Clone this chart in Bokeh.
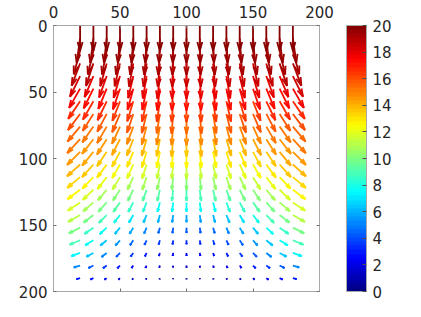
import math
from bokeh.plotting import figure
from bokeh.models import (Range1d, LinearAxis, ColorBar, LinearColorMapper,
                          FixedTicker, ColumnDataSource, CustomJSTickFormatter)
from bokeh.embed import file_html
from bokeh.resources import INLINE

# arrow tail positions
x_pos = [20, 30, 40, 50, 60, 70, 80, 90, 100, 110, 120, 130, 140, 150, 160, 170, 180]
y_pos = [0, 9.5, 19, 28.5, 38, 47.5, 57, 66.5, 76, 85.5, 95, 104.5, 114, 123.5,
         133, 142.5, 152, 161.5, 171, 180.5, 190]

# horizontal component (one row per y_pos, one value per x_pos)
U = [
    [0, 0, 0, 0, 0, 0, 0, 0, 0, 0, 0, 0, 0, 0, 0, 0, 0],
    [-2.7, -2.4, -2.1, -1.7, -1.4, -1.0, -0.7, -0.3, 0, 0.3, 0.7, 1.0, 1.4, 1.7, 2.1, 2.4, 2.7],
    [-5.0, -4.4, -3.7, -3.1, -2.5, -1.9, -1.3, -0.6, 0, 0.6, 1.3, 1.9, 2.5, 3.1, 3.7, 4.4, 5.0],
    [-6.7, -5.9, -5.1, -4.2, -3.4, -2.5, -1.7, -0.8, 0, 0.8, 1.7, 2.5, 3.4, 4.2, 5.1, 5.9, 6.7],
    [-8.0, -7.0, -6.0, -5.0, -4.0, -3.0, -2.0, -1.0, 0, 1.0, 2.0, 3.0, 4.0, 5.0, 6.0, 7.0, 8.0],
    [-8.7, -7.7, -6.6, -5.6, -4.5, -3.4, -2.2, -1.1, 0, 1.1, 2.2, 3.4, 4.5, 5.6, 6.6, 7.7, 8.7],
    [-9.4, -8.3, -7.2, -6.0, -4.8, -3.6, -2.4, -1.2, 0, 1.2, 2.4, 3.6, 4.8, 6.0, 7.2, 8.3, 9.4],
    [-9.6, -8.5, -7.4, -6.2, -5.0, -3.8, -2.5, -1.3, 0, 1.3, 2.5, 3.8, 5.0, 6.2, 7.4, 8.5, 9.6],
    [-10.0, -8.8, -7.6, -6.3, -5.1, -3.8, -2.6, -1.3, 0, 1.3, 2.6, 3.8, 5.1, 6.3, 7.6, 8.8, 10.0],
    [-10.2, -9.0, -7.7, -6.4, -5.1, -3.9, -2.6, -1.3, 0, 1.3, 2.6, 3.9, 5.1, 6.4, 7.7, 9.0, 10.2],
    [-10.3, -8.9, -7.6, -6.3, -5.0, -3.7, -2.5, -1.2, 0, 1.2, 2.5, 3.7, 5.0, 6.3, 7.6, 8.9, 10.3],
    [-10.4, -9.0, -7.6, -6.2, -4.9, -3.6, -2.4, -1.2, 0, 1.2, 2.4, 3.6, 4.9, 6.2, 7.6, 9.0, 10.4],
    [-10.2, -8.7, -7.3, -5.9, -4.6, -3.4, -2.2, -1.1, 0, 1.1, 2.2, 3.4, 4.6, 5.9, 7.3, 8.7, 10.2],
    [-10.0, -8.4, -7.0, -5.6, -4.4, -3.2, -2.1, -1.0, 0, 1.0, 2.1, 3.2, 4.4, 5.6, 7.0, 8.4, 10.0],
    [-9.8, -8.1, -6.6, -5.3, -4.0, -2.9, -1.9, -0.9, 0, 0.9, 1.9, 2.9, 4.0, 5.3, 6.6, 8.1, 9.8],
    [-9.5, -7.8, -6.2, -4.8, -3.5, -2.5, -1.6, -0.8, 0, 0.8, 1.6, 2.5, 3.5, 4.8, 6.2, 7.8, 9.5],
    [-8.9, -7.1, -5.5, -4.1, -3.0, -2.0, -1.3, -0.6, 0, 0.6, 1.3, 2.0, 3.0, 4.1, 5.5, 7.1, 8.9],
    [-8.3, -6.5, -5.0, -3.6, -2.6, -1.7, -1.0, -0.5, 0, 0.5, 1.0, 1.7, 2.6, 3.6, 5.0, 6.5, 8.3],
    [-7.0, -5.5, -4.1, -3.0, -2.1, -1.3, -0.8, -0.4, 0, 0.4, 0.8, 1.3, 2.1, 3.0, 4.1, 5.5, 7.0],
    [-5.0, -3.9, -2.9, -2.1, -1.4, -0.9, -0.5, -0.2, 0, 0.2, 0.5, 0.9, 1.4, 2.1, 2.9, 3.9, 5.0],
    [-2.9, -2.3, -1.7, -1.2, -0.8, -0.5, -0.3, -0.1, 0, 0.1, 0.3, 0.5, 0.8, 1.2, 1.7, 2.3, 2.9],
]

# vertical component (positive = downwards, as the y axis runs 0 at top to 200 at bottom)
V = [
    [20, 20, 20, 20, 20, 20, 20, 20, 20, 20, 20, 20, 20, 20, 20, 20, 20],
    [19.5, 19.5, 19.5, 19.6, 19.6, 19.6, 19.6, 19.6, 19.6, 19.6, 19.6, 19.6, 19.6, 19.6, 19.5, 19.5, 19.5],
    [18.6, 18.8, 18.8, 18.9, 19.0, 19.0, 19.1, 19.1, 19.1, 19.1, 19.1, 19.0, 19.0, 18.9, 18.8, 18.8, 18.6],
    [17.6, 17.8, 18.0, 18.1, 18.3, 18.4, 18.4, 18.5, 18.5, 18.5, 18.4, 18.4, 18.3, 18.1, 18.0, 17.8, 17.6],
    [16.4, 16.7, 17.0, 17.3, 17.5, 17.7, 17.8, 17.9, 17.9, 17.9, 17.8, 17.7, 17.5, 17.3, 17.0, 16.7, 16.4],
    [15.2, 15.6, 16.0, 16.4, 16.7, 16.9, 17.1, 17.2, 17.2, 17.2, 17.1, 16.9, 16.7, 16.4, 16.0, 15.6, 15.2],
    [13.9, 14.5, 15.0, 15.4, 15.8, 16.1, 16.2, 16.4, 16.4, 16.4, 16.2, 16.1, 15.8, 15.4, 15.0, 14.5, 13.9],
    [12.8, 13.4, 14.0, 14.5, 14.9, 15.2, 15.4, 15.6, 15.6, 15.6, 15.4, 15.2, 14.9, 14.5, 14.0, 13.4, 12.8],
    [11.9, 12.5, 13.1, 13.6, 14.0, 14.3, 14.5, 14.7, 14.7, 14.7, 14.5, 14.3, 14.0, 13.6, 13.1, 12.5, 11.9],
    [11.0, 11.6, 12.2, 12.7, 13.0, 13.3, 13.5, 13.7, 13.7, 13.7, 13.5, 13.3, 13.0, 12.7, 12.2, 11.6, 11.0],
    [10.3, 10.9, 11.4, 11.8, 12.1, 12.3, 12.5, 12.6, 12.6, 12.6, 12.5, 12.3, 12.1, 11.8, 11.4, 10.9, 10.3],
    [9.4, 10.0, 10.4, 10.8, 11.0, 11.2, 11.3, 11.4, 11.4, 11.4, 11.3, 11.2, 11.0, 10.8, 10.4, 10.0, 9.4],
    [8.5, 9.1, 9.5, 9.8, 9.9, 10.1, 10.1, 10.2, 10.2, 10.2, 10.1, 10.1, 9.9, 9.8, 9.5, 9.1, 8.5],
    [7.5, 8.0, 8.4, 8.6, 8.8, 8.8, 8.9, 8.9, 8.9, 8.9, 8.9, 8.8, 8.8, 8.6, 8.4, 8.0, 7.5],
    [6.6, 7.1, 7.4, 7.5, 7.6, 7.6, 7.5, 7.5, 7.5, 7.5, 7.5, 7.6, 7.6, 7.5, 7.4, 7.1, 6.6],
    [5.5, 6.0, 6.2, 6.2, 6.1, 6.0, 5.9, 5.8, 5.8, 5.8, 5.9, 6.0, 6.1, 6.2, 6.2, 6.0, 5.5],
    [4.5, 5.0, 5.1, 5.0, 4.9, 4.7, 4.5, 4.3, 4.3, 4.3, 4.5, 4.7, 4.9, 5.0, 5.1, 5.0, 4.5],
    [3.5, 4.0, 4.1, 4.1, 3.9, 3.6, 3.4, 3.3, 3.2, 3.3, 3.4, 3.6, 3.9, 4.1, 4.1, 4.0, 3.5],
    [2.6, 3.0, 3.2, 3.1, 2.9, 2.7, 2.5, 2.4, 2.3, 2.4, 2.5, 2.7, 2.9, 3.1, 3.2, 3.0, 2.6],
    [1.5, 1.9, 2.1, 2.1, 1.9, 1.8, 1.6, 1.5, 1.5, 1.5, 1.6, 1.8, 1.9, 2.1, 2.1, 1.9, 1.5],
    [0.8, 1.0, 1.1, 1.1, 1.1, 1.0, 0.9, 0.8, 0.8, 0.8, 0.9, 1.0, 1.1, 1.1, 1.1, 1.0, 0.8],
]

cb_ticks = [0, 2, 4, 6, 8, 10, 12, 14, 16, 18, 20]
axis_ticks = [0, 50, 100, 150, 200]


def jet(n):
    out = []
    for i in range(n):
        t = (i + 0.5) / n
        r = min(max(1.5 - abs(4 * t - 3), 0), 1)
        g = min(max(1.5 - abs(4 * t - 2), 0), 1)
        b = min(max(1.5 - abs(4 * t - 1), 0), 1)
        out.append("#%02x%02x%02x" % (round(r * 255), round(g * 255), round(b * 255)))
    return out


palette = jet(64)
mapper = LinearColorMapper(palette=palette, low=0, high=20)

# quiver drawing: shaft + two head strokes per arrow
scale = 0.95
alpha, beta = 0.35, 0.28
x0, y0, x1, y1, mags = [], [], [], [], []
hx0, hy0, hx1, hy1, hmag = [], [], [], [], []
for r, yy in enumerate(y_pos):
    for c, xx in enumerate(x_pos):
        uu, vv = U[r][c], V[r][c]
        m = math.hypot(uu, vv)
        u = uu * scale
        v = vv * scale
        tx, ty = xx + u, yy + v
        x0.append(xx); y0.append(yy); x1.append(tx); y1.append(ty); mags.append(m)
        for sgn in (1, -1):
            hx0.append(tx - alpha * (u + sgn * beta * v))
            hy0.append(ty - alpha * (v - sgn * beta * u))
            hx1.append(tx); hy1.append(ty); hmag.append(m)

p = figure(frame_width=266, frame_height=266, x_range=Range1d(0, 200),
           y_range=Range1d(200, 0), x_axis_location="above",
           output_backend="svg", toolbar_location=None,
           min_border_left=53, min_border_top=25, min_border_bottom=16,
           min_border_right=90)
p.grid.visible = False
p.outline_line_color = "#a8a8a8"
p.background_fill_color = "white"

cmap = {"field": "m", "transform": mapper}
p.segment(x0="x0", y0="y0", x1="x1", y1="y1", line_color=cmap, line_width=1.8,
          source=ColumnDataSource(dict(x0=x0, y0=y0, x1=x1, y1=y1, m=mags)))
p.segment(x0="x0", y0="y0", x1="x1", y1="y1", line_color=cmap, line_width=1.8,
          source=ColumnDataSource(dict(x0=hx0, y0=hy0, x1=hx1, y1=hy1, m=hmag)))

font = "DejaVu Sans"
txt = "#262626"
axc = "#a8a8a8"


def style(ax, labels=True):
    ax.ticker = FixedTicker(ticks=axis_ticks)
    ax.major_tick_in = 3
    ax.major_tick_out = 0
    ax.minor_tick_line_color = None
    ax.axis_line_color = axc
    ax.major_tick_line_color = "#707070"
    ax.major_label_text_font = font
    ax.major_label_text_font_size = "15px"
    ax.major_label_text_color = txt
    ax.major_label_standoff = 2
    if not labels:
        ax.formatter = CustomJSTickFormatter(code="return ''")
        ax.major_label_standoff = 0


style(p.xaxis[0])
p.xaxis[0].major_label_standoff = 8
style(p.yaxis[0])
p.yaxis[0].major_label_standoff = 6
bx = LinearAxis()
style(bx, False)
p.add_layout(bx, "below")
ry = LinearAxis()
style(ry, False)
p.add_layout(ry, "right")

cb = ColorBar(color_mapper=mapper, ticker=FixedTicker(ticks=cb_ticks), width=20,
              height=266, margin=0, padding=0, location=(27, 0),
              major_tick_in=4, major_tick_out=0,
              major_tick_line_color="#505050", bar_line_color=axc,
              border_line_color=None, background_fill_alpha=0,
              major_label_text_font=font, major_label_text_font_size="15px",
              major_label_text_color=txt, label_standoff=6)
p.add_layout(cb, "right")

open("out.html", "w").write(file_html(p, INLINE))
